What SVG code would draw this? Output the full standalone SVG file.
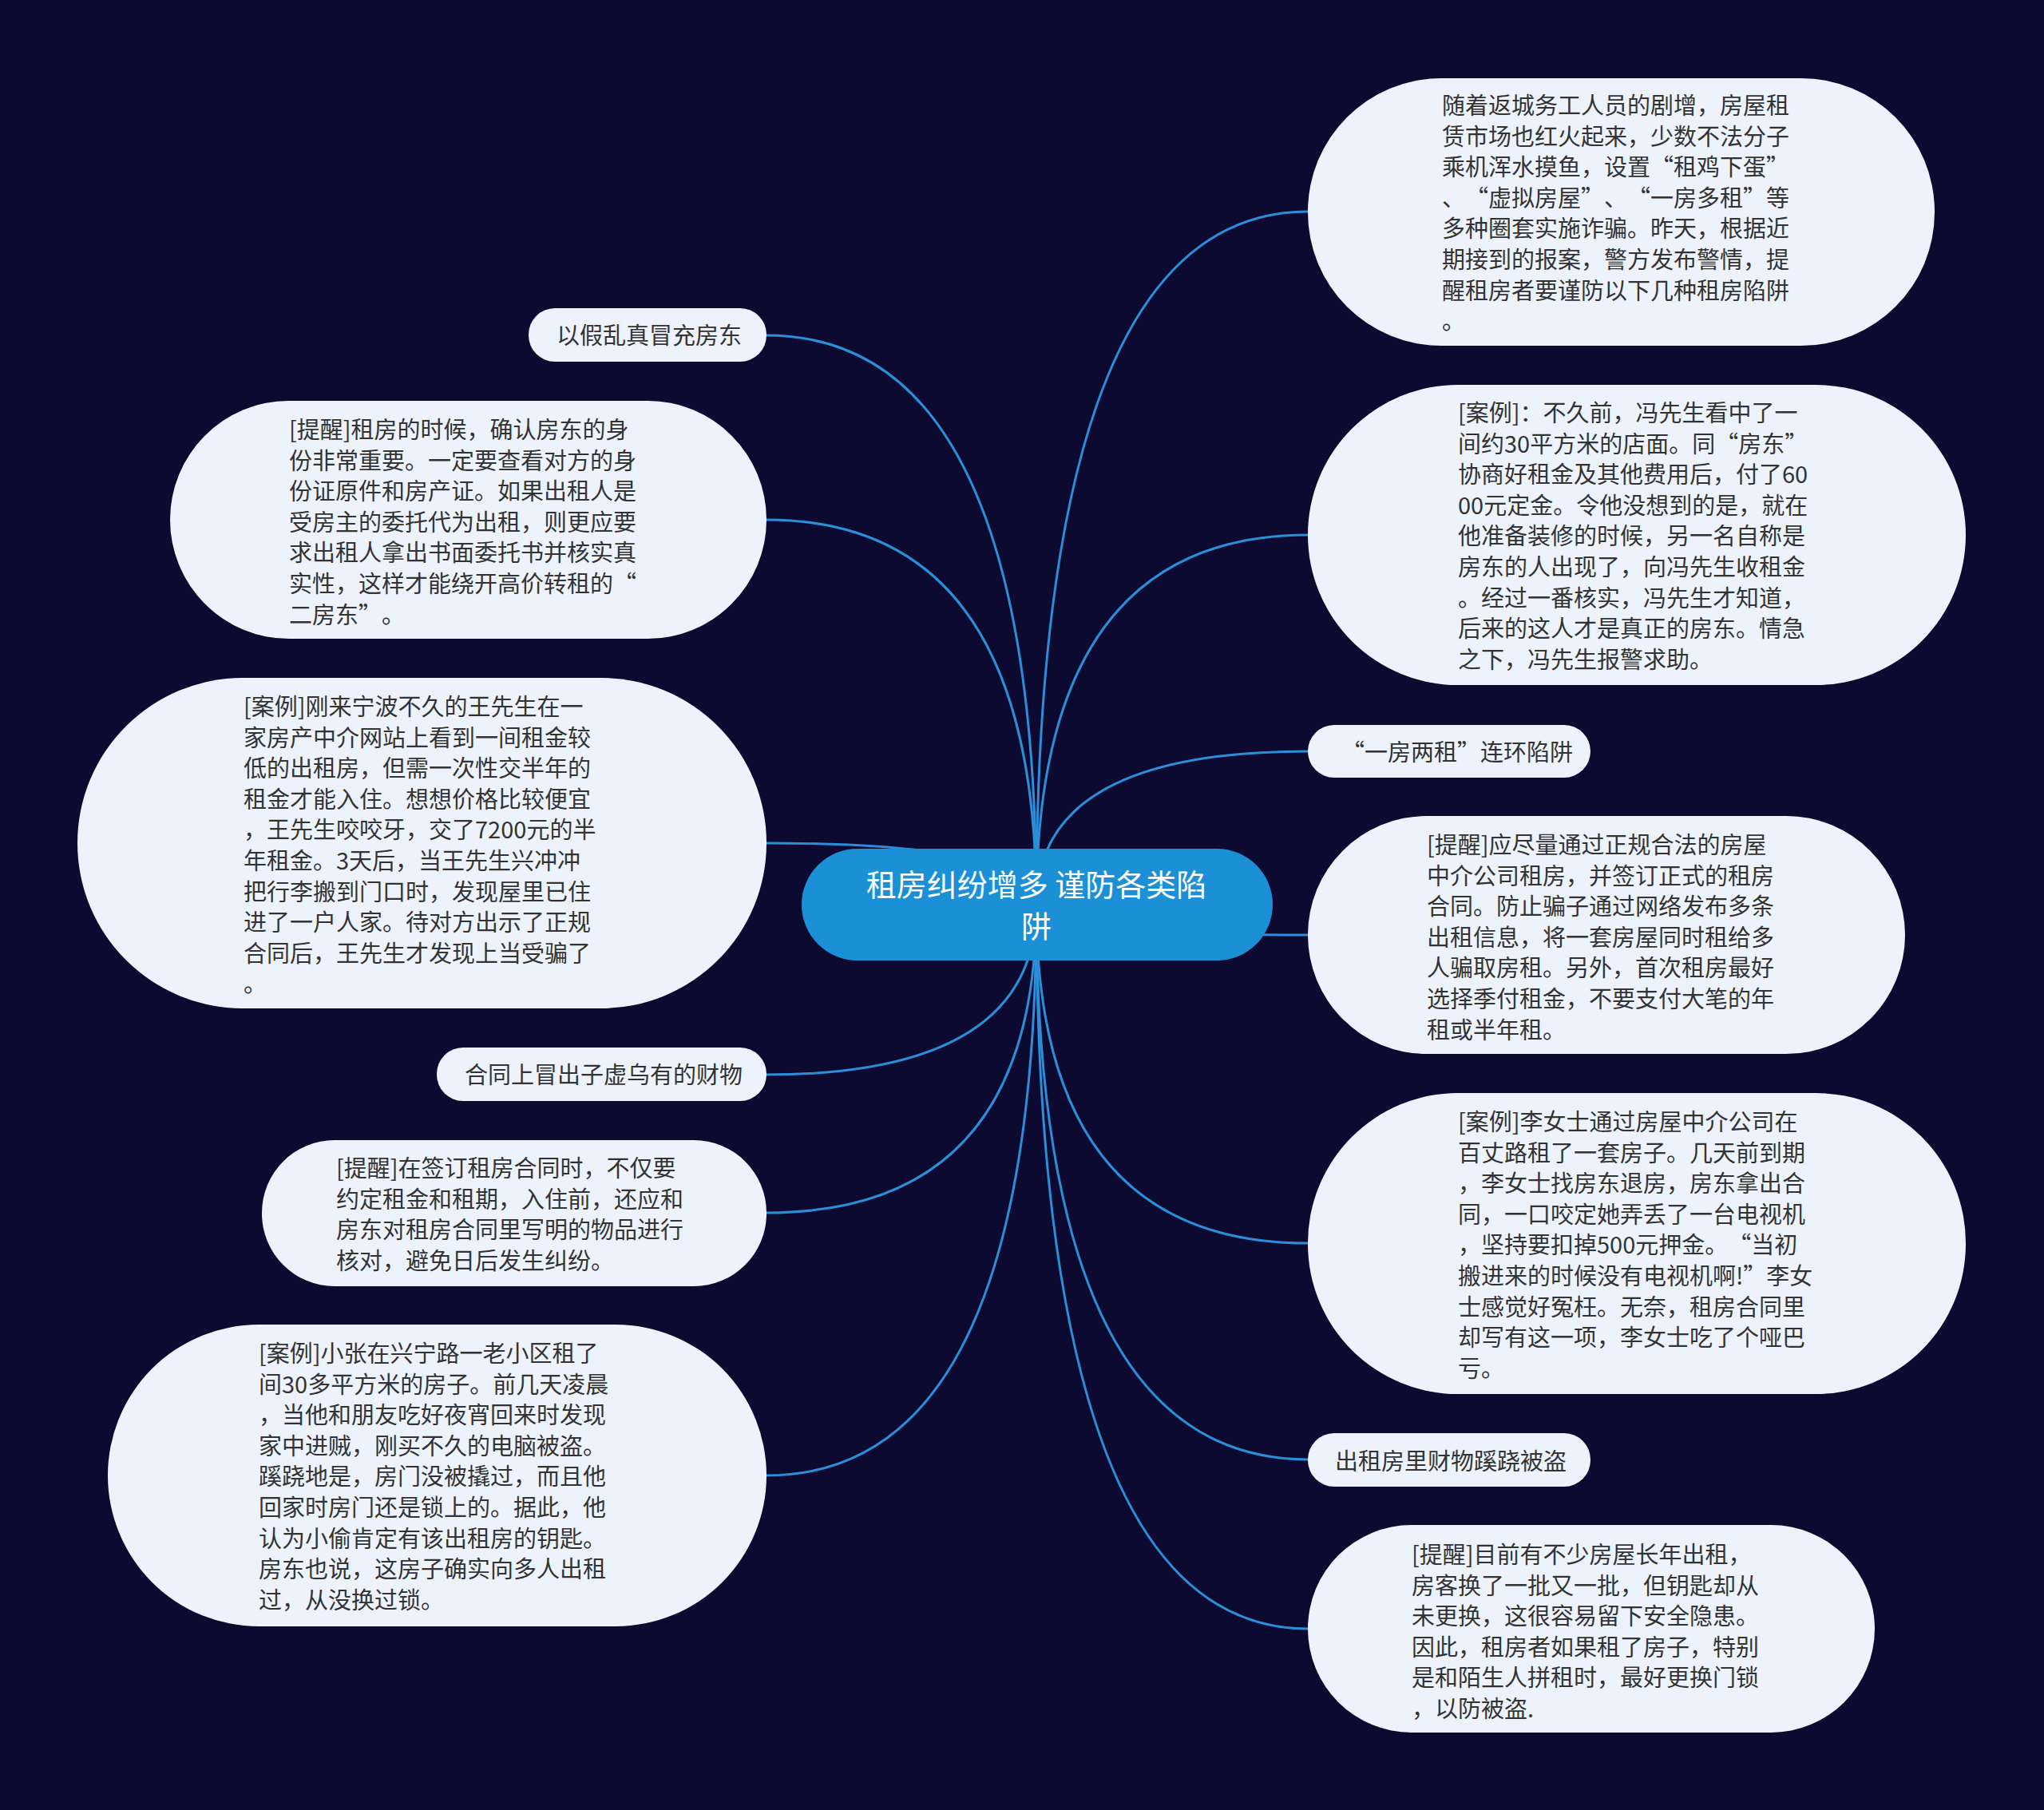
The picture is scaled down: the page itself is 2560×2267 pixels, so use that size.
<svg xmlns="http://www.w3.org/2000/svg" width="2560" height="2267" viewBox="0 0 2560 2267">
<style>
.bg{fill:#0c0a30}
.edge{fill:none;stroke:#2a8ed8;stroke-width:3}
.box{fill:#edf3fc}
.root{fill:#1b90d6}
.t{font-family:"Noto Sans CJK SC","Noto Sans",sans-serif;font-size:29px;fill:#333333;text-spacing-trim:space-all}
.rt{font-family:"Noto Sans CJK SC","Noto Sans",sans-serif;font-size:38px;fill:#ffffff;text-anchor:middle}
</style>
<rect class="bg" x="0" y="0" width="2560" height="2267"/>
<g id="connectors">
<path class="edge" d="M1298 1133 Q1298 420 960 420"/>
<path class="edge" d="M1298 1133 Q1298 651 960 651"/>
<path class="edge" d="M1298 1133 Q1298 1056 960 1056"/>
<path class="edge" d="M1298 1133 Q1298 1346 960 1346"/>
<path class="edge" d="M1298 1133 Q1298 1519 960 1519"/>
<path class="edge" d="M1298 1133 Q1298 1848 960 1848"/>
<path class="edge" d="M1298 1133 Q1298 265 1638 265"/>
<path class="edge" d="M1298 1133 Q1298 670 1638 670"/>
<path class="edge" d="M1298 1133 Q1298 941 1638 941"/>
<path class="edge" d="M1298 1133 Q1298 1171 1638 1171"/>
<path class="edge" d="M1298 1133 Q1298 1557 1638 1557"/>
<path class="edge" d="M1298 1133 Q1298 1828 1638 1828"/>
<path class="edge" d="M1298 1133 Q1298 2040 1638 2040"/>
</g>
<g id="root">
<rect class="root" x="1004" y="1063" width="590" height="140" rx="70"/>
<text class="rt" x="1298" y="1122">租房纠纷增多 谨防各类陷</text>
<text class="rt" x="1298" y="1174">阱</text>
</g>
<g id="r1">
<rect class="box" x="1638" y="98" width="785" height="335" rx="167"/>
<text class="t" x="1806" y="143">随着返城务工人员的剧增，房屋租</text>
<text class="t" x="1806" y="181.6">赁市场也红火起来，少数不法分子</text>
<text class="t" x="1806" y="220.2">乘机浑水摸鱼，设置“租鸡下蛋”</text>
<text class="t" x="1806" y="258.8">、“虚拟房屋”、“一房多租”等</text>
<text class="t" x="1806" y="297.4">多种圈套实施诈骗。昨天，根据近</text>
<text class="t" x="1806" y="336">期接到的报案，警方发布警情，提</text>
<text class="t" x="1806" y="374.6">醒租房者要谨防以下几种租房陷阱</text>
<text class="t" x="1806" y="413.2">。</text>
</g>
<g id="r2">
<rect class="box" x="1638" y="482" width="824" height="376" rx="188"/>
<text class="t" x="1826" y="528">[案例]：不久前，冯先生看中了一</text>
<text class="t" x="1826" y="566.6">间约30平方米的店面。同“房东”</text>
<text class="t" x="1826" y="605.2">协商好租金及其他费用后，付了60</text>
<text class="t" x="1826" y="643.8">00元定金。令他没想到的是，就在</text>
<text class="t" x="1826" y="682.4">他准备装修的时候，另一名自称是</text>
<text class="t" x="1826" y="721">房东的人出现了，向冯先生收租金</text>
<text class="t" x="1826" y="759.6">。经过一番核实，冯先生才知道，</text>
<text class="t" x="1826" y="798.2">后来的这人才是真正的房东。情急</text>
<text class="t" x="1826" y="836.8">之下，冯先生报警求助。</text>
</g>
<g id="r3">
<rect class="box" x="1638" y="908" width="354" height="66" rx="33"/>
<text class="t" x="1680" y="953">“一房两租”连环陷阱</text>
</g>
<g id="r4">
<rect class="box" x="1638" y="1022" width="748" height="298" rx="149"/>
<text class="t" x="1787" y="1069">[提醒]应尽量通过正规合法的房屋</text>
<text class="t" x="1787" y="1107.6">中介公司租房，并签订正式的租房</text>
<text class="t" x="1787" y="1146.2">合同。防止骗子通过网络发布多条</text>
<text class="t" x="1787" y="1184.8">出租信息，将一套房屋同时租给多</text>
<text class="t" x="1787" y="1223.4">人骗取房租。另外，首次租房最好</text>
<text class="t" x="1787" y="1262">选择季付租金，不要支付大笔的年</text>
<text class="t" x="1787" y="1300.6">租或半年租。</text>
</g>
<g id="r5">
<rect class="box" x="1638" y="1369" width="824" height="377" rx="188"/>
<text class="t" x="1826" y="1416">[案例]李女士通过房屋中介公司在</text>
<text class="t" x="1826" y="1454.6">百丈路租了一套房子。几天前到期</text>
<text class="t" x="1826" y="1493.2">，李女士找房东退房，房东拿出合</text>
<text class="t" x="1826" y="1531.8">同，一口咬定她弄丢了一台电视机</text>
<text class="t" x="1826" y="1570.4">，坚持要扣掉500元押金。“当初</text>
<text class="t" x="1826" y="1609">搬进来的时候没有电视机啊!”李女</text>
<text class="t" x="1826" y="1647.6">士感觉好冤枉。无奈，租房合同里</text>
<text class="t" x="1826" y="1686.2">却写有这一项，李女士吃了个哑巴</text>
<text class="t" x="1826" y="1724.8">亏。</text>
</g>
<g id="r6">
<rect class="box" x="1638" y="1795" width="354" height="67" rx="33"/>
<text class="t" x="1672" y="1841">出租房里财物蹊跷被盗</text>
</g>
<g id="r7">
<rect class="box" x="1638" y="1910" width="710" height="260" rx="130"/>
<text class="t" x="1768" y="1958">[提醒]目前有不少房屋长年出租，</text>
<text class="t" x="1768" y="1996.6">房客换了一批又一批，但钥匙却从</text>
<text class="t" x="1768" y="2035.2">未更换，这很容易留下安全隐患。</text>
<text class="t" x="1768" y="2073.8">因此，租房者如果租了房子，特别</text>
<text class="t" x="1768" y="2112.4">是和陌生人拼租时，最好更换门锁</text>
<text class="t" x="1768" y="2151">，以防被盗.</text>
</g>
<g id="l1">
<rect class="box" x="662" y="386" width="298" height="67" rx="33"/>
<text class="t" x="697" y="431">以假乱真冒充房东</text>
</g>
<g id="l2">
<rect class="box" x="213" y="502" width="747" height="298" rx="149"/>
<text class="t" x="362" y="549">[提醒]租房的时候，确认房东的身</text>
<text class="t" x="362" y="587.6">份非常重要。一定要查看对方的身</text>
<text class="t" x="362" y="626.2">份证原件和房产证。如果出租人是</text>
<text class="t" x="362" y="664.8">受房主的委托代为出租，则更应要</text>
<text class="t" x="362" y="703.4">求出租人拿出书面委托书并核实真</text>
<text class="t" x="362" y="742">实性，这样才能绕开高价转租的“</text>
<text class="t" x="362" y="780.6">二房东”。</text>
</g>
<g id="l3">
<rect class="box" x="97" y="849" width="863" height="414" rx="207"/>
<text class="t" x="305" y="896">[案例]刚来宁波不久的王先生在一</text>
<text class="t" x="305" y="934.6">家房产中介网站上看到一间租金较</text>
<text class="t" x="305" y="973.2">低的出租房，但需一次性交半年的</text>
<text class="t" x="305" y="1011.8">租金才能入住。想想价格比较便宜</text>
<text class="t" x="305" y="1050.4">，王先生咬咬牙，交了7200元的半</text>
<text class="t" x="305" y="1089">年租金。3天后，当王先生兴冲冲</text>
<text class="t" x="305" y="1127.6">把行李搬到门口时，发现屋里已住</text>
<text class="t" x="305" y="1166.2">进了一户人家。待对方出示了正规</text>
<text class="t" x="305" y="1204.8">合同后，王先生才发现上当受骗了</text>
<text class="t" x="305" y="1243.4">。</text>
</g>
<g id="l4">
<rect class="box" x="547" y="1312" width="413" height="67" rx="33"/>
<text class="t" x="582" y="1357">合同上冒出子虚乌有的财物</text>
</g>
<g id="l5">
<rect class="box" x="328" y="1428" width="632" height="183" rx="91"/>
<text class="t" x="421" y="1474">[提醒]在签订租房合同时，不仅要</text>
<text class="t" x="421" y="1512.6">约定租金和租期，入住前，还应和</text>
<text class="t" x="421" y="1551.2">房东对租房合同里写明的物品进行</text>
<text class="t" x="421" y="1589.8">核对，避免日后发生纠纷。</text>
</g>
<g id="l6">
<rect class="box" x="135" y="1659" width="825" height="378" rx="189"/>
<text class="t" x="324" y="1706">[案例]小张在兴宁路一老小区租了</text>
<text class="t" x="324" y="1744.6">间30多平方米的房子。前几天凌晨</text>
<text class="t" x="324" y="1783.2">，当他和朋友吃好夜宵回来时发现</text>
<text class="t" x="324" y="1821.8">家中进贼，刚买不久的电脑被盗。</text>
<text class="t" x="324" y="1860.4">蹊跷地是，房门没被撬过，而且他</text>
<text class="t" x="324" y="1899">回家时房门还是锁上的。据此，他</text>
<text class="t" x="324" y="1937.6">认为小偷肯定有该出租房的钥匙。</text>
<text class="t" x="324" y="1976.2">房东也说，这房子确实向多人出租</text>
<text class="t" x="324" y="2014.8">过，从没换过锁。</text>
</g>
</svg>
